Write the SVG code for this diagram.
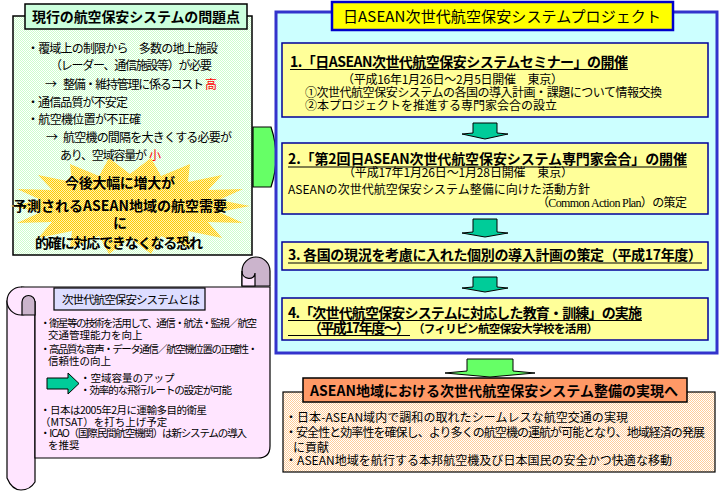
<svg xmlns="http://www.w3.org/2000/svg" width="720" height="491" viewBox="0 0 720 491">
<defs>
<style>
text{font-family:"Noto Sans CJK JP","Noto Sans",sans-serif;fill:#000}
.b{font-weight:bold}
.f10{font-size:10.5px}
.f11{font-size:11.5px}
.f12{font-size:12px}
.f14{font-size:14px}
.f15{font-size:15px}
.red{fill:#ff0000}
.ul{stroke:#000;stroke-width:1.2}
.ybox{fill:#ffff99;stroke:#000099;stroke-width:1.5}
.teal{fill:#00cc99;stroke:#000;stroke-width:1}
.pink{fill:#ffe5ff;stroke:#000;stroke-width:1.2}
.purp{fill:#cbb4cc;stroke:#000;stroke-width:1.2}
</style>
<pattern id="pg" width="2" height="2" patternUnits="userSpaceOnUse"><rect width="2" height="2" fill="#ffffff"/><rect width="1" height="1" fill="#ccffcc"/><rect x="1" y="1" width="1" height="1" fill="#ccffcc"/></pattern>
<pattern id="py" width="2" height="2" patternUnits="userSpaceOnUse"><rect width="2" height="2" fill="#fff2b3"/><rect width="1" height="1" fill="#ffcc00"/><rect x="1" y="1" width="1" height="1" fill="#ffcc00"/></pattern>
<pattern id="po" width="2" height="2" patternUnits="userSpaceOnUse"><rect width="2" height="2" fill="#ffffff"/><rect width="1" height="1" fill="#ffcc99"/><rect x="1" y="1" width="1" height="1" fill="#ffcc99"/></pattern>
</defs>
<rect width="720" height="491" fill="#ffffff"/>

<g id="connectors">
<path d="M253,127 H271 Q281,157 271,187 H253 Z" fill="#66ff66" stroke="#000" stroke-width="1.2"/>
</g>

<g id="problems">
<rect x="13" y="16" width="239" height="239" fill="url(#pg)" stroke="#000" stroke-width="1.5"/>
<rect x="25" y="4" width="222" height="25" fill="#ccffdd" stroke="#000" stroke-width="1.5"/>
<text x="136" y="22" text-anchor="middle" class="f14 b" textLength="208">現行の航空保安システムの問題点</text>
<text x="27" y="52.5" class="f12" textLength="191">・覆域上の制限から　多数の地上施設</text>
<text x="50" y="69.5" class="f12" textLength="162">（レーダー、通信施設等）が必要</text>
<text x="45" y="88.5" class="f12">→</text>
<text x="63" y="88.5" class="f12" textLength="141">整備・維持管理に係るコスト</text>
<text x="205" y="88.5" class="f12 red">高</text>
<text x="27" y="106.5" class="f12" textLength="101">・通信品質が不安定</text>
<text x="27" y="123.5" class="f12" textLength="114">・航空機位置が不正確</text>
<text x="46" y="141.5" class="f12">→</text>
<text x="63" y="141.5" class="f12" textLength="169">航空機の間隔を大きくする必要が</text>
<text x="60" y="159.5" class="f12" textLength="87">あり、空域容量が</text>
<text x="149" y="159.5" class="f12 red">小</text>
<polygon fill="url(#py)" points="250,206 219,212 243,223 208,222 222,238 188,231 190,248 161,236 151,254 130,238 109,254 99,236 70,248 72,231 38,238 52,222 17,223 41,212 10,206 41,200 17,189 52,190 38,175 72,182 70,164 99,176 109,158 130,174 151,158 161,176 190,164 188,182 222,175 208,190 243,189 219,200"/>
<text x="120" y="188" text-anchor="middle" class="f14 b" textLength="110">今後大幅に増大が</text>
<text x="120" y="211" text-anchor="middle" class="f14 b" textLength="214">予測されるASEAN地域の航空需要</text>
<text x="120" y="228" text-anchor="middle" class="f14 b">に</text>
<text x="119" y="248" text-anchor="middle" class="f14 b" textLength="168">的確に対応できなくなる恐れ</text>
</g>

<g id="scroll">
<path class="pink" d="M7,301 V478 Q12,490 21,490 Q30,490 35,482 V301 Z"/>
<circle class="pink" cx="21" cy="301" r="14"/>
<path class="purp" d="M242,286 V271 A14,14 0 0 1 270,271 V286 Z"/>
<path class="pink" d="M242,271 C242,280 255,281 255,273 V286 H242 Z"/>
<path class="pink" d="M21,287 H270 V446 Q270,458 258,458 H35 V301"/>
<path class="purp" d="M22,315 V302 A6.5,6.5 0 0 1 35,302 V315 Z"/>
<rect x="54" y="288" width="151" height="22" fill="#ddddff" stroke="#000" stroke-width="1.2"/>
<text x="62" y="303.5" class="f11" textLength="138">次世代航空保安システムとは</text>
<text x="40" y="327" class="f10" textLength="217">・衛星等の技術を活用して、通信・航法・監視／航空</text>
<text x="48" y="339" class="f10">交通管理能力を向上</text>
<text x="40" y="353" class="f10" textLength="218">・高品質な音声・データ通信／航空機位置の正確性・</text>
<text x="48" y="365" class="f10">信頼性の向上</text>
<path class="teal" d="M47,378 H68 V373 L79,383.5 L68,394 V389 H47 Z"/>
<text x="80" y="382" class="f10">・空域容量のアップ</text>
<text x="80" y="394" class="f10" textLength="152">・効率的な飛行ルートの設定が可能</text>
<text x="40" y="414" class="f10" textLength="167">・日本は2005年2月に運輸多目的衛星</text>
<text x="40" y="426" class="f10">（MTSAT）を打ち上げ予定</text>
<text x="40" y="437" class="f10" textLength="207">・ICAO（国際民間航空機関）は新システムの導入</text>
<text x="48" y="449" class="f10">を推奨</text>
</g>

<g id="project">
<rect x="276" y="12" width="441" height="341" fill="#ccffff" stroke="#3333cc" stroke-width="3"/>
<rect x="332" y="2" width="341" height="28" fill="#ffff00" stroke="#0000cc" stroke-width="2.5"/>
<text x="502" y="21.5" text-anchor="middle" class="f15" textLength="318">日ASEAN次世代航空保安システムプロジェクト</text>
</g>

<g id="step1">
<rect class="ybox" x="282" y="43" width="426" height="74"/>
<text x="290" y="67" class="f14 b" textLength="338">1.「日ASEAN次世代航空保安システムセミナー」の開催</text>
<line class="ul" x1="290" y1="69.5" x2="628" y2="69.5"/>
<text x="342" y="83.5" class="f12" textLength="221">（平成16年1月26日～2月5日開催　東京）</text>
<text x="305" y="96.5" class="f12" textLength="357">①次世代航空保安システムの各国の導入計画・課題について情報交換</text>
<text x="305" y="109.5" class="f12">②本プロジェクトを推進する専門家会合の設立</text>
</g>

<g id="step2">
<rect class="ybox" x="282" y="143" width="426" height="71"/>
<text x="288" y="164.3" class="f14 b" textLength="399">2.「第2回日ASEAN次世代航空保安システム専門家会合」の開催</text>
<line class="ul" x1="288" y1="167" x2="687" y2="167"/>
<text x="343" y="176.5" class="f12" textLength="230">（平成17年1月26日～1月28日開催　東京）</text>
<text x="288" y="193.5" class="f12" textLength="302">ASEANの次世代航空保安システム整備に向けた活動方針</text>
<text x="537" y="206.5" class="f12" textLength="150">（<tspan font-family="Liberation Serif">Common Action Plan</tspan>）の策定</text>
</g>

<g id="step3">
<rect class="ybox" x="282" y="242" width="426" height="28"/>
<text x="288" y="260.3" class="f14 b" textLength="414">3. 各国の現況を考慮に入れた個別の導入計画の策定（平成17年度）</text>
<line class="ul" x1="288" y1="263" x2="702" y2="263"/>
</g>

<g id="step4">
<rect class="ybox" x="282" y="298" width="426" height="42"/>
<text x="288" y="318" class="f14 b" textLength="354">4.「次世代航空保安システムに対応した教育・訓練」の実施</text>
<line class="ul" x1="288" y1="320.5" x2="642" y2="320.5"/>
<text x="308" y="333" class="f14 b" textLength="102">（平成17年度～）</text>
<line class="ul" x1="288" y1="335.5" x2="410" y2="335.5"/>
<text x="413" y="332.5" class="f11 b" font-size="11px" textLength="185">（フィリピン航空保安大学校を活用）</text>
</g>

<g id="connectors-flow">
<path class="teal" d="M473,123 H497 V133 L508,134 L485,139 L462,134 L473,133 Z"/>
<path class="teal" d="M473,219 H497 V232 L508,233 L485,237 L462,233 L473,232 Z"/>
<path class="teal" d="M473,277 H497 V287 L508,288 L485,292 L462,288 L473,287 Z"/>
<path d="M467,359 H513 V371 L535,373 L490,377 L445,373 L467,371 Z" fill="#66ff66" stroke="#000" stroke-width="1"/>
</g>

<g id="result">
<rect x="283" y="392" width="432" height="80" fill="url(#po)" stroke="#000" stroke-width="1.2"/>
<rect x="303" y="378" width="384" height="24" fill="#ff9966" stroke="#000" stroke-width="1.5"/>
<text x="494" y="396" text-anchor="middle" class="f14 b" textLength="368">ASEAN地域における次世代航空保安システム整備の実現へ</text>
<text x="285" y="421.5" class="f12" textLength="343">・日本-ASEAN域内で調和の取れたシームレスな航空交通の実現</text>
<text x="285" y="436.5" class="f12" textLength="420">・安全性と効率性を確保し、より多くの航空機の運航が可能となり、地域経済の発展</text>
<text x="293" y="451.5" class="f12">に貢献</text>
<text x="285" y="464.5" class="f12" textLength="387">・ASEAN地域を航行する本邦航空機及び日本国民の安全かつ快適な移動</text>
</g>
</svg>
